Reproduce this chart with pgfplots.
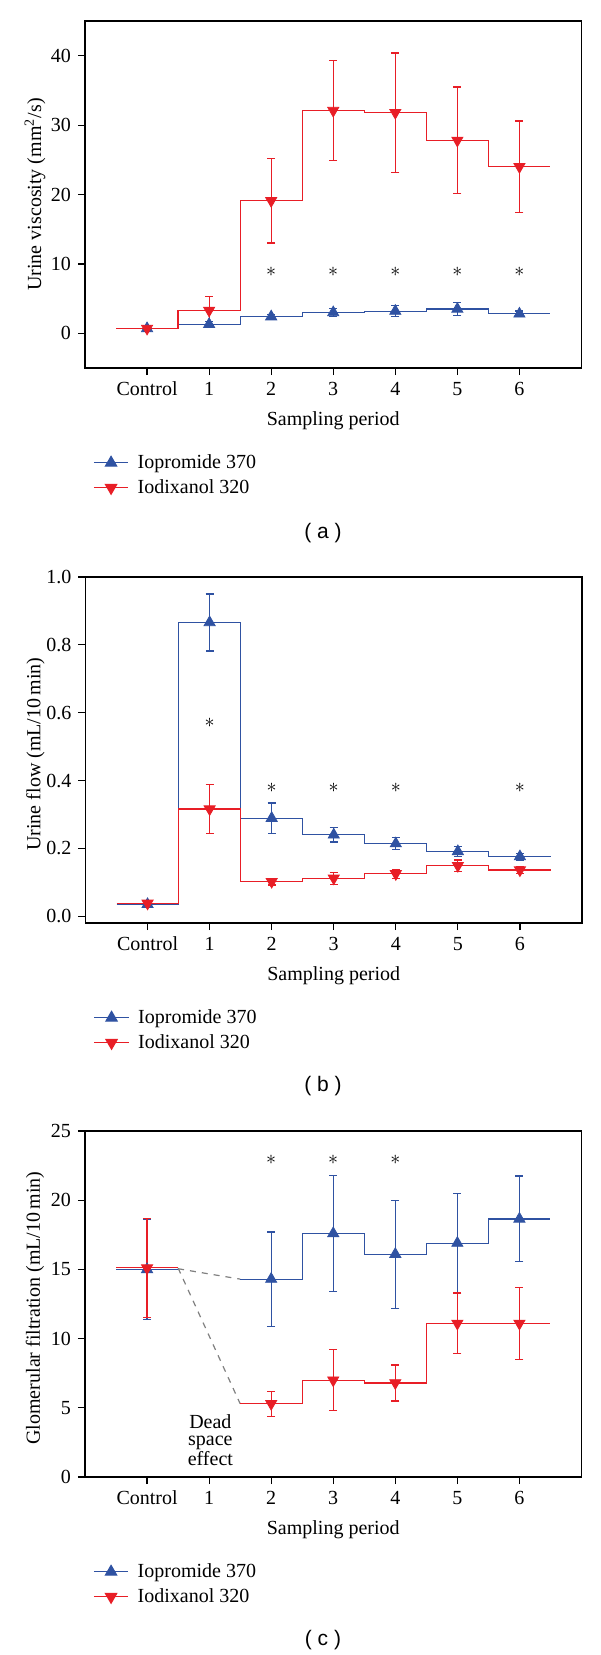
\documentclass[border=0pt]{standalone}
\usepackage{fontspec}
\setmainfont{Liberation Serif}
\setsansfont{Liberation Sans}
\usepackage{pgfplots}
\usepackage{pgfplotstable}
\pgfplotsset{compat=1.18}

\definecolor{ipblue}{RGB}{47,82,162}
\definecolor{idred}{RGB}{232,30,38}

% panel (a): urine viscosity
\pgfplotstableread{
x y e
0 0.7 0.4
1 1.3 0.4
2 2.4 0.3
3 3.0 0.6
4 3.2 0.8
5 3.5 0.9
6 2.8 0.4
}\aIP
\pgfplotstableread{
x y e
0 0.7 0.3
1 3.3 2.0
2 19.1 6.1
3 32.1 7.2
4 31.8 8.6
5 27.8 7.7
6 24.0 6.6
}\aID
% panel (b): urine flow
\pgfplotstableread{
x y e
0 0.035 0.010
1 0.866 0.084
2 0.289 0.045
3 0.240 0.021
4 0.214 0.018
5 0.191 0.015
6 0.176 0.010
}\bIP
\pgfplotstableread{
x y e
0 0.038 0.008
1 0.316 0.072
2 0.102 0.010
3 0.112 0.018
4 0.125 0.013
5 0.149 0.017
6 0.136 0.010
}\bID
% panel (c): glomerular filtration
\pgfplotstableread{
x y e
0 15.0 3.6
2 14.3 3.4
3 17.6 4.2
4 16.1 3.9
5 16.9 3.6
6 18.65 3.1
}\cIP
\pgfplotstableread{
x y e
0 15.1 3.6
2 5.3 0.9
3 7.0 2.2
4 6.8 1.3
5 11.1 2.2
6 11.1 2.6
}\cID

\newcommand{\tfont}{\fontsize{10}{12}\selectfont}

\pgfplotsset{
  panel/.style={
    scale only axis, width=248.25pt, height=173pt,
    anchor=south west,
    xmin=-1, xmax=7,
    xtick={0,...,6}, xticklabels={Control,1,2,3,4,5,6},
    tick align=outside, xtick pos=bottom, ytick pos=left,
    major tick length=3.5pt,
    tick style={black, line width=0.6pt},
    axis line style={line width=0.6pt},
    ticklabel style={font=\tfont},
    /pgf/number format/assume math mode=true,
    xlabel={Sampling period},
    every axis x label/.style={at={(axis description cs:0.5,0)}, anchor=center, yshift=-26.5pt, font=\tfont},
    every axis y label/.style={at={(axis description cs:0,0.5)}, anchor=center, xshift=-25pt, rotate=90, font=\tfont},
    legend style={at={(axis description cs:0,0)}, anchor=north west, xshift=1pt, yshift=-39.5pt,
      draw=none, fill=none, font=\tfont, nodes={inner sep=1.5pt}, row sep=1pt, column sep=3pt},
    legend cell align=left,
  },
  ipline/.style={ipblue, line width=0.6pt, const plot mark left, mark=none, forget plot},
  idline/.style={idred, line width=0.6pt, const plot mark left, mark=none, forget plot},
  ipmark/.style={forget plot, ipblue, only marks, mark=triangle*, mark size=3.2pt,
    error bars/.cd, y dir=both, y explicit,
    error bar style={ipblue, line width=0.6pt},
    error mark options={ipblue, rotate=90, mark size=2pt, line width=0.6pt}, /pgfplots/.cd},
  idmark/.style={forget plot, idred, only marks, mark=triangle*, mark size=3.2pt, mark options={rotate=180},
    error bars/.cd, y dir=both, y explicit,
    error bar style={idred, line width=0.6pt},
    error mark options={idred, rotate=90, mark size=2pt, line width=0.6pt}, /pgfplots/.cd},
  stars/.style={forget plot, draw=none, mark=none, nodes near coords={$\ast$},
    every node near coord/.append style={anchor=center, black, font=\tfont}},
}

\begin{document}
\begin{tikzpicture}
\useasboundingbox (0pt,0pt) rectangle (300pt,-827.5pt);

% ---------------- (a)
\begin{axis}[panel, at={(42.5pt,-184pt)}, height=173.5pt,
  ymin=-5, ymax=45, ytick={0,10,20,30,40},
  ylabel={Urine viscosity (mm\textsuperscript{2}/s)}]
\addlegendimage{ipblue, line width=0.6pt, mark=triangle*, mark size=3.2pt}
\addlegendentry{Iopromide 370}
\addlegendimage{idred, line width=0.6pt, mark=triangle*, mark size=3.2pt, mark options={rotate=180}}
\addlegendentry{Iodixanol 320}
\addplot[ipline] coordinates {(-0.5,0.7)(0.5,1.3)(1.5,2.4)(2.5,3.0)(3.5,3.2)(4.5,3.5)(5.5,2.8)(6.5,2.8)};
\addplot[idline] coordinates {(-0.5,0.7)(0.5,3.3)(1.5,19.1)(2.5,32.1)(3.5,31.8)(4.5,27.8)(5.5,24.0)(6.5,24.0)};
\addplot[ipmark] table[x=x, y=y, y error=e] {\aIP};
\addplot[idmark] table[x=x, y=y, y error=e] {\aID};
\addplot[stars] coordinates {(2,8.8)(3,8.8)(4,8.8)(5,8.8)(6,8.8)};
\end{axis}
\node[font=\sffamily\fontsize{10.5}{12}\selectfont] at (161.5pt,-266.5pt) {( a )};

% ---------------- (b)
\begin{axis}[panel, at={(42.75pt,-461.5pt)},
  ymin=-0.02, ymax=1, ytick={0,0.2,0.4,0.6,0.8,1},
  yticklabel style={/pgf/number format/.cd, fixed, fixed zerofill, precision=1},
  ylabel={Urine flow (mL/10\,min)},
  every axis y label/.append style={xshift=-2pt}]
\addlegendimage{ipblue, line width=0.6pt, mark=triangle*, mark size=3.2pt}
\addlegendentry{Iopromide 370}
\addlegendimage{idred, line width=0.6pt, mark=triangle*, mark size=3.2pt, mark options={rotate=180}}
\addlegendentry{Iodixanol 320}
\addplot[ipline] coordinates {(-0.5,0.035)(0.5,0.866)(1.5,0.289)(2.5,0.240)(3.5,0.214)(4.5,0.191)(5.5,0.176)(6.5,0.176)};
\addplot[idline] coordinates {(-0.5,0.038)(0.5,0.316)(1.5,0.102)(2.5,0.112)(3.5,0.125)(4.5,0.149)(5.5,0.136)(6.5,0.136)};
\addplot[ipmark] table[x=x, y=y, y error=e] {\bIP};
\addplot[idmark] table[x=x, y=y, y error=e] {\bID};
\addplot[stars] coordinates {(1,0.569)(2,0.377)(3,0.377)(4,0.377)(6,0.377)};
\end{axis}
\node[font=\sffamily\fontsize{10.5}{12}\selectfont] at (161.5pt,-543.2pt) {( b )};

% ---------------- (c)
\begin{axis}[panel, at={(42.5pt,-738.5pt)},
  ymin=0, ymax=25, ytick={0,5,10,15,20,25},
  ylabel={Glomerular filtration (mL/10\,min)},
  every axis y label/.append style={xshift=-2pt}]
\addlegendimage{ipblue, line width=0.6pt, mark=triangle*, mark size=3.2pt}
\addlegendentry{Iopromide 370}
\addlegendimage{idred, line width=0.6pt, mark=triangle*, mark size=3.2pt, mark options={rotate=180}}
\addlegendentry{Iodixanol 320}
\addplot[gray, dashed, line width=0.6pt, forget plot] coordinates {(0.5,15.05)(1.5,14.3)};
\addplot[gray, dashed, line width=0.6pt, forget plot] coordinates {(0.5,15.1)(1.5,5.3)};
\addplot[ipline] coordinates {(-0.5,15.0)(0.5,15.0)};
\addplot[ipline] coordinates {(1.5,14.3)(2.5,17.6)(3.5,16.1)(4.5,16.9)(5.5,18.65)(6.5,18.65)};
\addplot[idline] coordinates {(-0.5,15.15)(0.5,15.15)};
\addplot[idline] coordinates {(1.5,5.3)(2.5,7.0)(3.5,6.8)(4.5,11.1)(5.5,11.1)(6.5,11.1)};
\addplot[ipmark] table[x=x, y=y, y error=e] {\cIP};
\addplot[idmark] table[x=x, y=y, y error=e] {\cID};
\addplot[stars] coordinates {(2,22.9)(3,22.9)(4,22.9)};
\node[align=center, font=\fontsize{10}{8.6}\selectfont, inner sep=0pt] at (axis cs:1.02,2.65) {Dead\\space\\effect};
\end{axis}
\node[font=\sffamily\fontsize{10.5}{12}\selectfont] at (161.5pt,-820pt) {( c )};
\end{tikzpicture}
\end{document}
